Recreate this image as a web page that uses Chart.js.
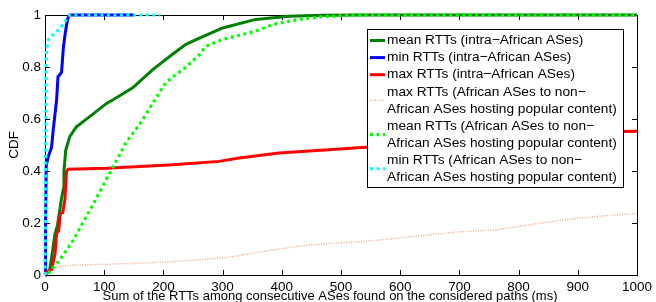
<!DOCTYPE html>
<html><head><meta charset="utf-8">
<script src="https://cdn.jsdelivr.net/npm/chart.js@4.4.1/dist/chart.umd.min.js"></script>
<style>html,body{margin:0;padding:0;background:#fff}#wrap{width:656px;height:302px;position:relative}</style>
</head><body><div id="wrap"><canvas id="c" width="656" height="302"></canvas></div>
<script>
// ---- data (x in ms, y = CDF) ----
const xTicks = [0,100,200,300,400,500,600,700,800,900,1000];
const yTicks = [0,0.2,0.4,0.6,0.8,1];

const meanIntraX = [0,4,8,12,17,21,25,28,31,32,35,42,53,76,104,115,148,182,216,238,260,300,356,412,468,530,1000];
const meanIntraY = [0,0.01,0.02,0.08,0.16,0.19,0.25,0.296,0.33,0.40,0.48,0.533,0.57,0.61,0.66,0.674,0.72,0.79,0.85,0.887,0.91,0.95,0.983,0.995,0.999,1,1];

const minIntraX = [0,1,2,5.6,11,14,19.6,22,25,28,31,33.6,36.5,39,42,150];
const minIntraY = [0,0.2,0.42,0.456,0.49,0.56,0.674,0.764,0.77,0.78,0.874,0.92,0.963,0.99,1,1];

const maxIntraX = [0,3,11,17,19.6,23,26,30,33.6,36.4,39,104,216,294,328,395,479,535,700,850,972,1000];
const maxIntraY = [0,0.013,0.02,0.083,0.16,0.17,0.238,0.24,0.289,0.398,0.407,0.411,0.424,0.437,0.45,0.469,0.482,0.49,0.51,0.53,0.552,0.553];

const maxAfrX = [0,10,20,48,160,243,300,328,367,423,479,535,591,647,703,760,807,874,931,1000];
const maxAfrY = [0,0.015,0.032,0.038,0.045,0.055,0.066,0.074,0.09,0.109,0.122,0.128,0.141,0.154,0.167,0.173,0.189,0.212,0.225,0.238];

const meanAfrX = [5.5,25,48,76,109,137,160,182,204,238,260,272,300,356,384,429,468,524,1000];
const meanAfrY = [0.006,0.058,0.135,0.25,0.39,0.51,0.58,0.66,0.74,0.80,0.845,0.88,0.906,0.938,0.963,0.983,0.993,1,1];

const minAfrX = [0,1,2,3,5.6,8.4,14,25,33.6,39,42,195];
const minAfrY = [0,0.3,0.83,0.87,0.905,0.912,0.925,0.947,0.975,0.995,1,1];

const xTitle = 'Sum of the RTTs among consecutive ASes found on the considered paths (ms)';
const yTitle = 'CDF';

const labels = [
  ["mean RTTs (intra\u2212African ASes)"],
  ["min RTTs (intra\u2212African ASes)"],
  ["max RTTs (intra\u2212African ASes)"],
  ["max RTTs (African ASes to non\u2212","African ASes hosting popular content)"],
  ["mean RTTs (African ASes to non\u2212","African ASes hosting popular content)"],
  ["min RTTs (African ASes to non\u2212","African ASes hosting popular content)"]
];

function pts(xs, ys){ return xs.map((x,i)=>({x:x, y:ys[i]})); }

const FONT = '"Liberation Sans", Arial, sans-serif';
const FS = 13.5;

const styles = [
  {c:'#007f00', w:3, d:[]},
  {c:'#0000ff', w:3, d:[]},
  {c:'#ff0000', w:3, d:[]},
  {c:'rgba(238,160,130,0.9)', w:1.5, d:[1,1.5]},
  {c:'#00ff00', w:3.2, d:[3,3.5]},
  {c:'#00ffff', w:3.2, d:[3,3.5]}
];
const series = [[meanIntraX,meanIntraY],[minIntraX,minIntraY],[maxIntraX,maxIntraY],[maxAfrX,maxAfrY],[meanAfrX,meanAfrY],[minAfrX,minAfrY]];

const datasets = series.map((s,i)=>({
  label: labels[i].join(' '),
  data: pts(s[0], s[1]),
  borderColor: styles[i].c,
  borderWidth: styles[i].w,
  borderDash: styles[i].d,
  pointRadius: 0,
  tension: 0,
  fill: false,
  clip: false,
  order: 6 - i
}));

const framePlugin = {
  id: 'frame',
  beforeDatasetsDraw(chart){
    const {ctx, chartArea:a, scales} = chart;
    ctx.save();
    ctx.strokeStyle = '#000'; ctx.lineWidth = 1;
    ctx.strokeRect(Math.round(a.left)+0.5, Math.round(a.top)+0.5, Math.round(a.right-a.left), Math.round(a.bottom-a.top));
    ctx.beginPath();
    const L = 5;
    xTicks.forEach(v=>{
      const x = Math.round(scales.x.getPixelForValue(v))+0.5;
      ctx.moveTo(x, a.bottom); ctx.lineTo(x, a.bottom-L);
      ctx.moveTo(x, a.top); ctx.lineTo(x, a.top+L);
    });
    yTicks.forEach(v=>{
      const y = Math.round(scales.y.getPixelForValue(v))+0.5;
      ctx.moveTo(a.left, y); ctx.lineTo(a.left+L, y);
      ctx.moveTo(a.right, y); ctx.lineTo(a.right-L, y);
    });
    ctx.stroke();
    // axis titles
    ctx.fillStyle = '#000';
    ctx.textAlign = 'center'; ctx.textBaseline = 'middle';
    ctx.font = '13px ' + FONT;
    ctx.fillText(xTitle, 330, 296.5);
    ctx.save();
    ctx.translate(14, 145);
    ctx.rotate(-Math.PI/2);
    ctx.font = FS + 'px ' + FONT;
    ctx.fillText(yTitle, 0, 0);
    ctx.restore();
    ctx.restore();
  },
  afterDatasetsDraw(chart){
    const ctx = chart.ctx;
    const bx = 367.5, by = 29.5, bw = 256, bh = 158;
    ctx.save();
    ctx.fillStyle = '#fff';
    ctx.fillRect(bx, by, bw, bh);
    ctx.strokeStyle = '#000'; ctx.lineWidth = 1;
    ctx.strokeRect(bx, by, bw, bh);
    ctx.font = '13.7px ' + FONT;
    ctx.fillStyle = '#000';
    ctx.textBaseline = 'middle';
    const lh = 17.1;
    let y = 40.5;
    labels.forEach((lab,i)=>{
      const st = styles[i];
      const cy = y + (lab.length-1)*lh/2;
      ctx.beginPath();
      ctx.strokeStyle = st.c; ctx.lineWidth = st.w; ctx.setLineDash(st.d);
      ctx.moveTo(370, cy); ctx.lineTo(385, cy); ctx.stroke();
      ctx.setLineDash([]);
      lab.forEach((t,k)=>{ ctx.fillText(t, 387, y + k*lh); });
      y += lab.length*lh;
    });
    ctx.restore();
  }
};

new Chart(document.getElementById('c'), {
  type: 'line',
  data: { datasets },
  options: {
    responsive: false,
    animation: false,
    layout: { padding: { left: 0, right: 16, top: 15, bottom: 0 } },
    plugins: { legend: { display: false }, tooltip: { enabled: false } },
    scales: {
      x: {
        type: 'linear', min: 0, max: 1000,
        afterFit(s){ s.height = 27; },
        afterBuildTicks(s){ s.ticks = xTicks.map(v=>({value:v})); },
        grid: { display: false, drawTicks: false },
        border: { display: false },
        ticks: { color: '#000', font: { family: FONT, size: FS }, padding: 4, maxRotation: 0, autoSkip: false, callback: v => String(v) },
        title: { display: false }
      },
      y: {
        type: 'linear', min: 0, max: 1,
        afterFit(s){ s.width = 45; },
        afterBuildTicks(s){ s.ticks = yTicks.map(v=>({value:v})); },
        grid: { display: false, drawTicks: false },
        border: { display: false },
        ticks: { color: '#000', font: { family: FONT, size: FS }, padding: 4, autoSkip: false, callback: v => String(v) },
        title: { display: false }
      }
    }
  },
  plugins: [framePlugin]
});
</script>
</body></html>
